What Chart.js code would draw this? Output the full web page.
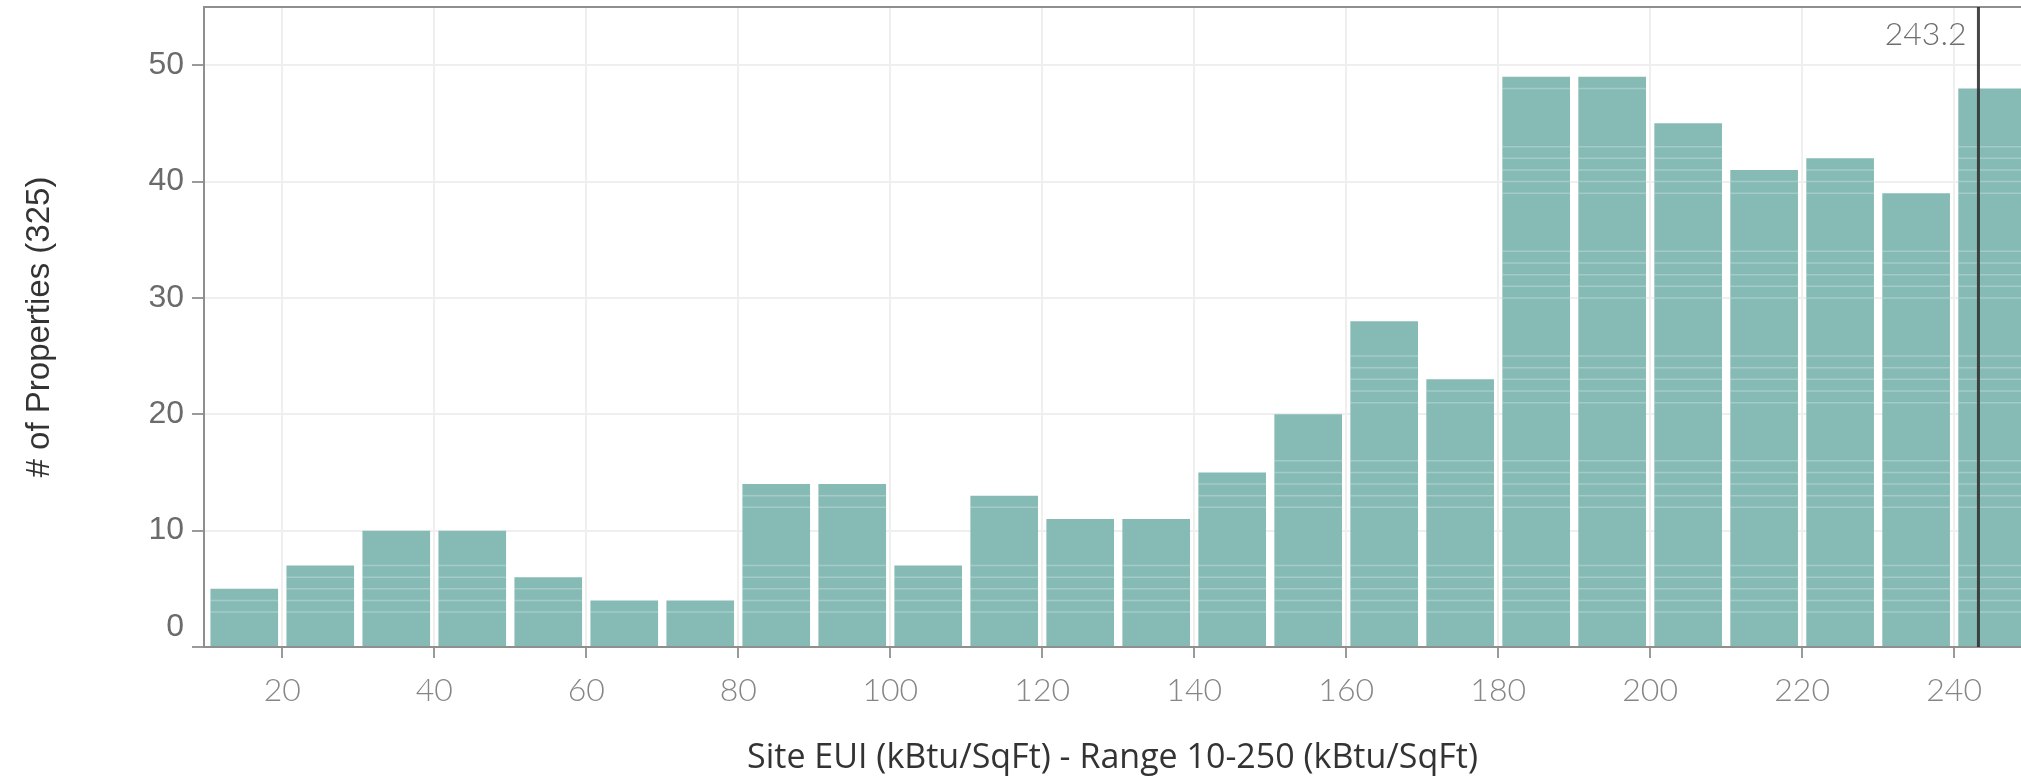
<!DOCTYPE html>
<html>
<head>
<meta charset="utf-8">
<script src="https://cdn.jsdelivr.net/npm/chart.js@4.4.1/dist/chart.umd.min.js"></script>
<style>
  html, body { margin: 0; padding: 0; background: #fff; overflow: hidden; }
  #wrap { width: 2021px; height: 781px; }
</style>
</head>
<body>
<div id="wrap"><canvas id="euiCanvas" width="2021" height="781"></canvas></div>
<script>
// histogram bins (kBtu/SqFt), 10 wide
const binStarts = [10, 20, 30, 40, 50, 60, 70, 80, 90, 100, 110, 120,
                   130, 140, 150, 160, 170, 180, 190, 200, 210, 220, 230, 240];
const binSize = 10;
const propertyCounts = [5, 7, 10, 10, 6, 4, 4, 14, 14, 7, 13, 11,
                        11, 15, 20, 28, 23, 49, 49, 45, 41, 42, 39, 48];

const xTickValues = [20, 40, 60, 80, 100, 120, 140, 160, 180, 200, 220, 240];
const yTickValues = [0, 10, 20, 30, 40, 50];

const referenceValue = 243.2;
const referenceLabel = '243.2';

const xAxisTitle = 'Site EUI (kBtu/SqFt) - Range 10-250 (kBtu/SqFt)';
const yAxisTitle = '# of Properties (325)';

const barColor = '#86bab4';
const gridColor = '#efefef';
const axisColor = '#8f8f8f';

const yTickFont = { family: '"Liberation Sans", Arial', size: 32 };
const xTickFont = { family: 'Lato', size: 32, weight: '300' };

// faint seams between stacked marks (tableau draws one mark per property)
function seamVisible(k) {
    return ((k - 3) % 9 + 9) % 9 < 5;
}

const seamPlugin = {
    id: 'seams',
    afterDatasetsDraw(chart) {
        const ctx = chart.ctx;
        const y = chart.scales.y;
        const area = chart.chartArea;
        ctx.save();
        ctx.beginPath();
        ctx.rect(area.left, area.top, area.right - area.left, area.bottom - area.top);
        ctx.clip();
        ctx.strokeStyle = 'rgba(255,255,255,0.25)';
        ctx.lineWidth = 1.5;
        chart.getDatasetMeta(0).data.forEach((bar, i) => {
            const half = bar.width / 2;
            for (let k = 1; k < propertyCounts[i]; k++) {
                if (!seamVisible(k)) continue;
                const py = y.getPixelForValue(k);
                ctx.beginPath();
                ctx.moveTo(bar.x - half, py);
                ctx.lineTo(bar.x + half, py);
                ctx.stroke();
            }
        });
        ctx.restore();
    }
};

const referencePlugin = {
    id: 'referenceLine',
    afterDatasetsDraw(chart) {
        const ctx = chart.ctx;
        const area = chart.chartArea;
        const px = chart.scales.x.getPixelForValue(referenceValue);
        ctx.save();
        ctx.strokeStyle = 'rgba(50,50,50,0.9)';
        ctx.lineWidth = 3;
        ctx.beginPath();
        ctx.moveTo(px, area.top);
        ctx.lineTo(px, area.bottom);
        ctx.stroke();

        ctx.fillStyle = '#6e6e6e';
        ctx.font = `${xTickFont.weight} ${xTickFont.size}px ${xTickFont.family}`;
        ctx.textAlign = 'right';
        ctx.textBaseline = 'middle';
        ctx.fillText(referenceLabel, px - 12, area.top + 28);
        ctx.restore();
    }
};

// tableau lifts the "0" label off the bottom edge
const zeroLabelPlugin = {
    id: 'zeroLabel',
    afterDraw(chart) {
        const y = chart.scales.y;
        const ctx = chart.ctx;
        ctx.save();
        ctx.fillStyle = '#6b6b6b';
        ctx.font = `${yTickFont.size}px ${yTickFont.family}`;
        ctx.textAlign = 'right';
        ctx.textBaseline = 'middle';
        ctx.fillText('0', y.right - 12 - 8, y.getPixelForValue(0) - 20);
        ctx.restore();
    }
};

const euiChart = new Chart(document.getElementById('euiCanvas'), {
    type: 'bar',
    data: {
        datasets: [{
            data: binStarts.map((s, i) => ({ x: s + binSize / 2, y: propertyCounts[i] })),
            backgroundColor: barColor,
            borderWidth: 0,
            categoryPercentage: 1,
            barPercentage: 0.89
        }]
    },
    options: {
        responsive: false,
        animation: false,
        layout: { padding: 0 },
        plugins: {
            legend: { display: false },
            tooltip: { enabled: false }
        },
        scales: {
            x: {
                type: 'linear',
                position: 'bottom',
                offset: false,
                min: 9.7,
                max: 248.8,
                afterBuildTicks: (scale) => {
                    scale.ticks = xTickValues.map(v => ({ value: v }));
                },
                ticks: {
                    font: xTickFont,
                    color: '#868686',
                    padding: 13,
                    maxRotation: 0,
                    autoSkip: false
                },
                grid: {
                    offset: false,
                    color: gridColor,
                    lineWidth: 2,
                    tickLength: 11,
                    tickColor: '#9a9a9a',
                    tickWidth: 2
                },
                border: { color: axisColor, width: 2 },
                title: {
                    display: true,
                    text: xAxisTitle,
                    font: { family: '"Open Sans"', size: 34 },
                    color: '#333333',
                    padding: { top: 0, bottom: 2 }
                },
                afterFit: (scale) => {
                    scale.height = 134;
                    scale.paddingLeft = 0;
                    scale.paddingRight = 0;
                }
            },
            xTop: {
                type: 'linear',
                position: 'top',
                offset: false,
                min: 9.7,
                max: 248.8,
                ticks: { display: false },
                grid: { display: false, drawTicks: false },
                border: { color: axisColor, width: 2 },
                afterFit: (scale) => {
                    scale.height = 7;
                    scale.paddingLeft = 0;
                    scale.paddingRight = 0;
                }
            },
            y: {
                min: 0,
                max: 55,
                afterBuildTicks: (scale) => {
                    scale.ticks = yTickValues.map(v => ({ value: v }));
                },
                ticks: {
                    font: yTickFont,
                    color: '#6b6b6b',
                    padding: 8,
                    callback: (v) => (v === 0 ? '' : v)
                },
                grid: {
                    color: gridColor,
                    lineWidth: 2,
                    tickLength: 12,
                    tickColor: '#9a9a9a',
                    tickWidth: 2
                },
                border: { color: axisColor, width: 2 },
                title: {
                    display: true,
                    text: yAxisTitle,
                    font: { family: '"Liberation Sans", Arial', size: 33 },
                    color: '#333333',
                    padding: { top: 20 }
                },
                afterFit: (scale) => {
                    scale.width = 204;
                    scale.paddingTop = 0;
                    scale.paddingBottom = 0;
                }
            }
        }
    },
    plugins: [seamPlugin, referencePlugin, zeroLabelPlugin]
});
</script>
</body>
</html>
